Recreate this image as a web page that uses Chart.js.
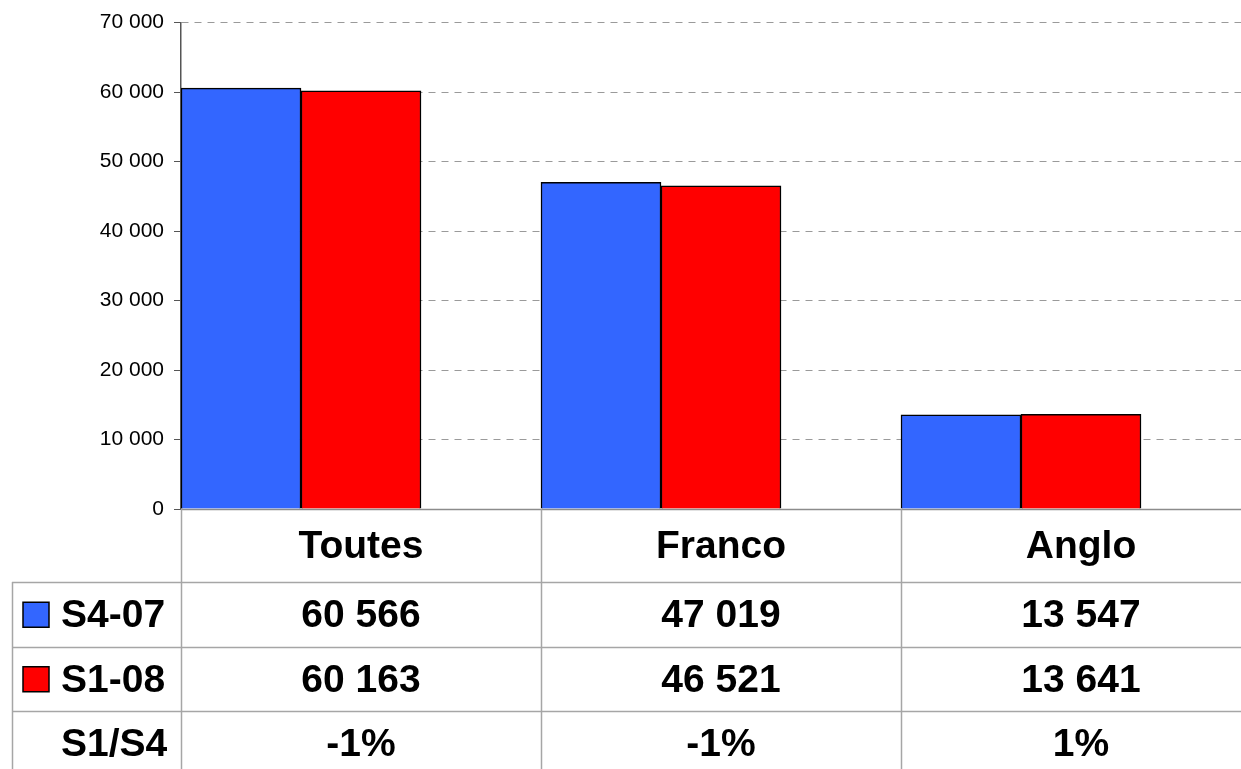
<!DOCTYPE html>
<html>
<head>
<meta charset="utf-8">
<script src="https://cdn.jsdelivr.net/npm/chart.js@4.4.1/dist/chart.umd.min.js"></script>
<style>
  html, body { margin: 0; padding: 0; background: #fff; overflow: hidden; }
  #wrap { width: 1241px; height: 769px; overflow: hidden; }
</style>
</head>
<body>
<div id="wrap"><canvas id="barChart" width="1261" height="769"></canvas></div>
<script>
const categories = ['Toutes', 'Franco', 'Anglo'];
const seriesNames = ['S4-07', 'S1-08'];
const s4_07 = [60566, 47019, 13547];
const s1_08 = [60163, 46521, 13641];
const ratioName = 'S1/S4';
const ratioLabels = ['-1%', '-1%', '1%'];
const yTicks = [0, 10000, 20000, 30000, 40000, 50000, 60000, 70000];

const blue = '#3366FF';
const red = '#FF0000';

function fmt(v) {
    return String(v).replace(/\B(?=(\d{3})+(?!\d))/g, ' ');
}

// table under the plot (x labels + data rows)
const tablePlugin = {
    id: 'dataTable',
    afterDraw(chart) {
        const ctx = chart.ctx;
        const x = chart.scales.x;
        const area = chart.chartArea;
        const catW = x.width / categories.length;
        const top = area.bottom;
        const headerH = 73;
        const rowH = 64.5;
        const bottom = chart.height;
        const tableLeft = 12;

        ctx.save();
        // category axis line
        ctx.strokeStyle = '#8c8c8c';
        ctx.lineWidth = 1.5;
        ctx.beginPath();
        ctx.moveTo(area.left, Math.round(top) + 0.5);
        ctx.lineTo(chart.width, Math.round(top) + 0.5);
        ctx.stroke();

        ctx.strokeStyle = '#a6a6a6';

        // vertical separators
        for (let i = 0; i <= categories.length; i++) {
            const px = Math.round(area.left + i * catW) + 0.5;
            ctx.beginPath();
            ctx.moveTo(px, top);
            ctx.lineTo(px, bottom);
            ctx.stroke();
        }
        ctx.beginPath();
        ctx.moveTo(tableLeft + 0.5, top + headerH);
        ctx.lineTo(tableLeft + 0.5, bottom);
        ctx.stroke();

        // horizontal separators
        for (let r = 0; r < 3; r++) {
            const py = Math.round(top + headerH + r * rowH) + 0.5;
            ctx.beginPath();
            ctx.moveTo(tableLeft, py);
            ctx.lineTo(chart.width, py);
            ctx.stroke();
        }

        ctx.fillStyle = '#000';
        ctx.font = 'bold 39px "Liberation Sans", Arial, sans-serif';
        ctx.textBaseline = 'middle';
        ctx.textAlign = 'center';

        categories.forEach((c, i) => {
            ctx.fillText(c, x.getPixelForValue(i), top + headerH / 2 + 2);
        });

        const rows = [s4_07.map(fmt), s1_08.map(fmt), ratioLabels];
        rows.forEach((vals, r) => {
            const cy = top + headerH + r * rowH + rowH / 2 + 2;
            vals.forEach((v, i) => {
                ctx.fillText(v, x.getPixelForValue(i), cy);
            });
        });

        // row headers with legend keys
        ctx.textAlign = 'left';
        const keyColors = [blue, red];
        seriesNames.forEach((name, r) => {
            const cy = top + headerH + r * rowH + rowH / 2;
            ctx.fillStyle = keyColors[r];
            ctx.fillRect(23, cy - 12, 26, 25);
            ctx.strokeStyle = '#000';
            ctx.lineWidth = 1.5;
            ctx.strokeRect(23, cy - 12, 26, 25);
            ctx.fillStyle = '#000';
            ctx.fillText(name, 61, cy + 2);
        });
        ctx.fillText(ratioName, 61, top + headerH + 2 * rowH + rowH / 2 + 2);
        ctx.restore();
    }
};

const ctx = document.getElementById('barChart').getContext('2d');
new Chart(ctx, {
    type: 'bar',
    data: {
        labels: categories,
        datasets: [
            { label: seriesNames[0], data: s4_07, backgroundColor: blue, borderColor: '#000', borderWidth: 1.5 },
            { label: seriesNames[1], data: s1_08, backgroundColor: red, borderColor: '#000', borderWidth: 1.5 },
            // empty slot that leaves the gap on the right of each group
            { label: '', data: [null, null, null], backgroundColor: 'rgba(0,0,0,0)', borderWidth: 0 }
        ]
    },
    options: {
        responsive: false,
        animation: false,
        layout: { padding: { top: 20, left: 0, right: 0, bottom: 0 } },
        plugins: {
            legend: { display: false },
            title: { display: false },
            tooltip: { enabled: false }
        },
        datasets: {
            bar: { categoryPercentage: 1.0, barPercentage: 1.0 }
        },
        scales: {
            x: {
                offset: true,
                grid: { display: false },
                ticks: { display: false },
                border: { display: false },
                afterFit(scale) { scale.height = 260; }
            },
            y: {
                min: 0,
                max: 70000,
                afterBuildTicks(scale) { scale.ticks = yTicks.map(v => ({ value: v })); },
                ticks: {
                    color: '#000',
                    padding: 10,
                    font: { family: '"Liberation Sans", Arial, sans-serif', size: 21 },
                    callback: v => fmt(v)
                },
                grid: {
                    color: '#9a9a9a',
                    lineWidth: 1,
                    tickLength: 7,
                    tickBorderDash: [],
                    tickColor: '#555',
                    drawOnChartArea: true
                },
                // in v4 border.dash sets the dash of the grid lines
                border: { display: true, color: '#555', width: 1.5, dash: [7, 6] },
                afterFit(scale) { scale.width = 181; }
            }
        }
    },
    plugins: [tablePlugin]
});
</script>
</body>
</html>
